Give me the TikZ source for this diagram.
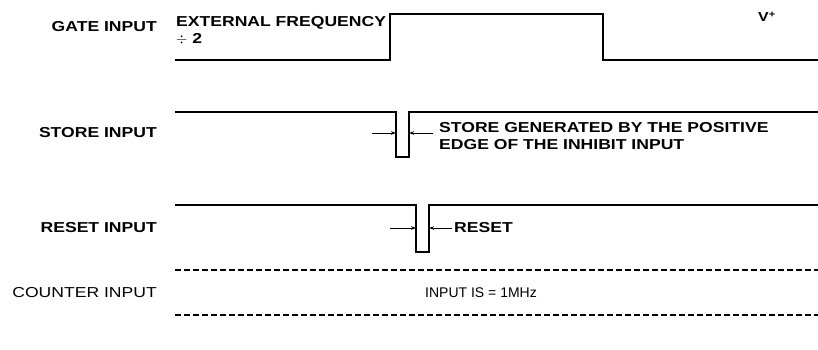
\documentclass[tikz,border=0pt]{standalone}
\usepackage{fontspec}
\setmainfont{Liberation Sans}[FakeStretch=1.22]
\newfontfamily\slimfont{Liberation Sans}
\usetikzlibrary{arrows.meta}

\begin{document}
\begin{tikzpicture}[x=1pt,y=-1pt]
\tikzstyle{wave} = [line width=1.4pt, line join=miter] % signal trace
\tikzstyle{dashwave} = [line width=1.4pt, dash pattern=on 6pt off 3pt] % counter trace
\tikzstyle{signame} = [anchor=east, inner sep=0pt, font=\fontsize{14.4}{16}\selectfont\bfseries] % signal names
\tikzstyle{note} = [anchor=north west, inner sep=0pt, align=left, font=\fontsize{14.4}{17}\selectfont\bfseries] % notes beside traces
\tikzstyle{marker} = [line width=0.8pt, -{Stealth[length=5pt,width=3.5pt]}] % width markers

\useasboundingbox (0,0) rectangle (818,350);

% signal names
\node[signame] (gate) at (157,27) {GATE INPUT};
\node[signame] (store) at (157,133) {STORE INPUT};
\node[signame] (reset) at (157,228) {RESET INPUT};
\node[signame, font=\fontsize{14.4}{16}\selectfont] (counter) at (157,293) {COUNTER INPUT};

% gate input
\draw[wave] (175,60) -- (390,60) -- (390,14) -- (603,14) -- (603,60) -- (818,60);
\node[note] (extfreq) at (176,16) {EXTERNAL FREQUENCY\\$\div$ 2};
\node[anchor=west, inner sep=0pt, font=\fontsize{13}{15}\selectfont\bfseries] (vplus) at (758,17) {V\textsuperscript{+}};

% store input
\draw[wave] (175,112) -- (396,112) -- (396,157) -- (409,157) -- (409,112) -- (818,112);
\coordinate (sl) at (372,133);
\coordinate (slend) at (396,133);
\coordinate (sr) at (433,133);
\coordinate (srend) at (409,133);
\draw[marker] (sl) -- (slend);
\draw[marker] (sr) -- (srend);
\node[note] (storenote) at (439,122) {STORE GENERATED BY THE POSITIVE\\EDGE OF THE INHIBIT INPUT};

% reset input
\draw[wave] (175,205) -- (416,205) -- (416,252) -- (429,252) -- (429,205) -- (818,205);
\coordinate (rl) at (390,228);
\coordinate (rlend) at (416,228);
\coordinate (rr) at (452,228);
\coordinate (rrend) at (429,228);
\draw[marker] (rl) -- (rlend);
\node[anchor=west, inner sep=0pt, font=\fontsize{14.4}{16}\selectfont\bfseries] (resetnote) at (454,228) {RESET};
\draw[marker] (rr) -- (rrend);

% counter input
\draw[dashwave] (175,270) -- (818,270);
\draw[dashwave] (175,315) -- (818,315);
\node[inner sep=0pt, font=\slimfont\fontsize{14}{16}\selectfont] (rate) at (481,293) {INPUT IS = 1MHz};
\end{tikzpicture}
\end{document}
